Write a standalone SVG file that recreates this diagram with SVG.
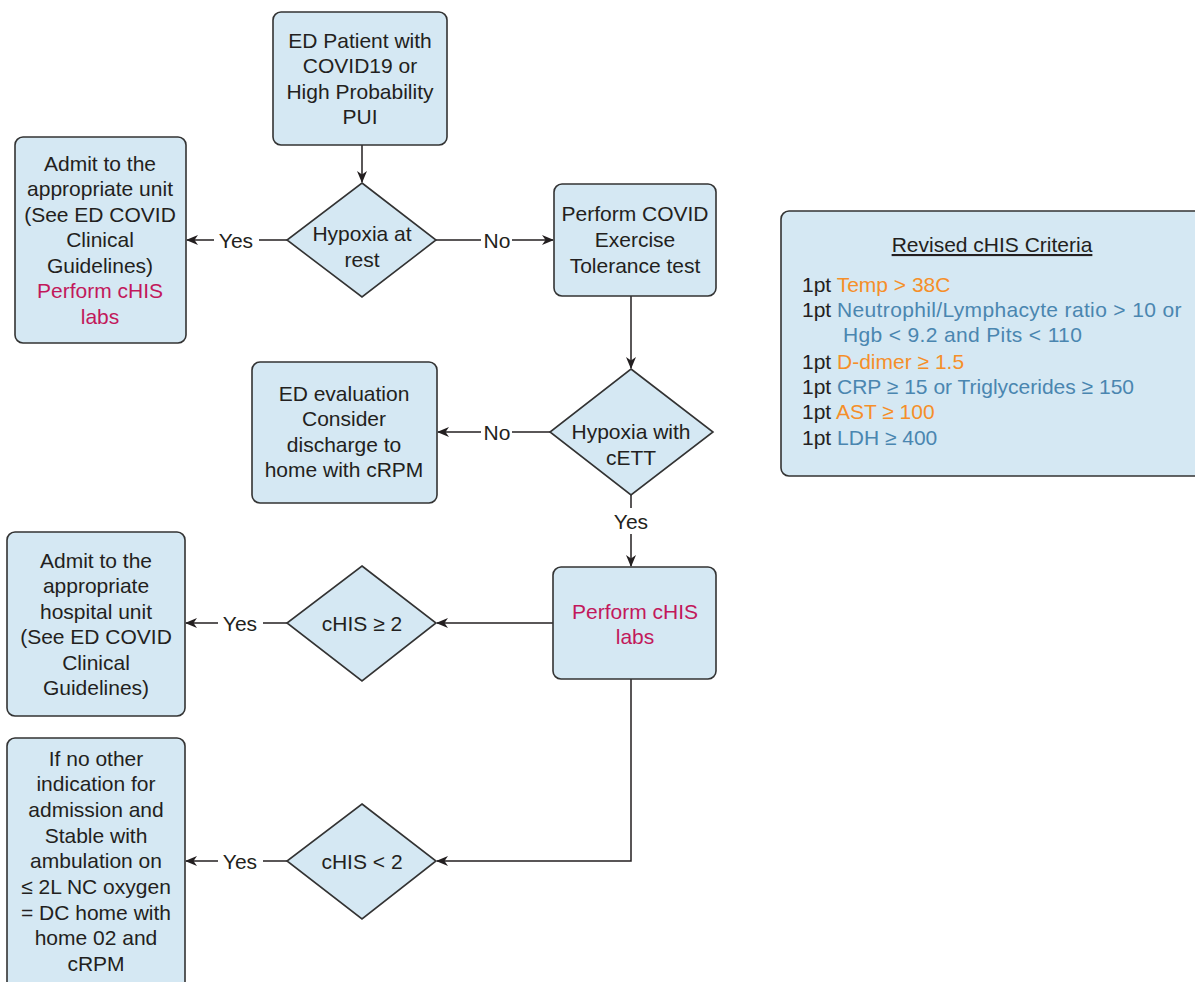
<svg xmlns="http://www.w3.org/2000/svg" width="1195" height="982" viewBox="0 0 1195 982">
<defs>
<style>
.box{fill:#d5e8f3;stroke:#333;stroke-width:1.6}
.t{font-family:"Liberation Sans",Arial,sans-serif;font-size:21px;fill:#231f20;text-anchor:middle}
.l{font-family:"Liberation Sans",Arial,sans-serif;font-size:21px;fill:#231f20}
.red{fill:#c2185b}
.or{fill:#f58f29}
.bl{fill:#4a86b0}
.ln{fill:none;stroke:#231f20;stroke-width:1.5}
</style>
<marker id="ah" markerWidth="12" markerHeight="10" refX="11" refY="5" orient="auto" markerUnits="userSpaceOnUse">
<path d="M0,0 L12,5 L0,10 L3.5,5 z" fill="#231f20"/>
</marker>
</defs>
<rect width="1195" height="982" fill="#fff"/>

<g id="connectors">
<line class="ln" x1="362" y1="145" x2="362" y2="182" marker-end="url(#ah)"/>
<line class="ln" x1="287" y1="240" x2="259" y2="240"/>
<line class="ln" x1="214" y1="240" x2="187" y2="240" marker-end="url(#ah)"/>
<text class="t" x="236" y="247.5">Yes</text>
<line class="ln" x1="436" y1="240" x2="481" y2="240"/>
<line class="ln" x1="512" y1="240" x2="553" y2="240" marker-end="url(#ah)"/>
<text class="t" x="497" y="247.5">No</text>
<line class="ln" x1="631" y1="296" x2="631" y2="368" marker-end="url(#ah)"/>
<line class="ln" x1="550" y1="432" x2="512" y2="432"/>
<line class="ln" x1="481" y1="432" x2="438" y2="432" marker-end="url(#ah)"/>
<text class="t" x="497" y="439.5">No</text>
<line class="ln" x1="631" y1="495" x2="631" y2="508"/>
<text class="t" x="631" y="528.5">Yes</text>
<line class="ln" x1="631" y1="534" x2="631" y2="566" marker-end="url(#ah)"/>
<line class="ln" x1="553" y1="623" x2="437" y2="623" marker-end="url(#ah)"/>
<line class="ln" x1="287" y1="623" x2="263" y2="623"/>
<line class="ln" x1="218" y1="623" x2="186" y2="623" marker-end="url(#ah)"/>
<text class="t" x="240" y="630.5">Yes</text>
<polyline class="ln" points="631,679 631,861 437,861" marker-end="url(#ah)"/>
<line class="ln" x1="287" y1="861" x2="263" y2="861"/>
<line class="ln" x1="218" y1="861" x2="186" y2="861" marker-end="url(#ah)"/>
<text class="t" x="240" y="868.5">Yes</text>
</g>

<g id="start">
<rect class="box" x="273" y="12" width="174" height="133" rx="8"/>
<text class="t" x="360" y="47.5">ED Patient with</text>
<text class="t" x="360" y="73">COVID19 or</text>
<text class="t" x="360" y="98.5">High Probability</text>
<text class="t" x="360" y="124">PUI</text>
</g>

<g id="hypoxia-rest">
<polygon class="box" points="362,183 436,240 362,297 287,240"/>
<text class="t" x="362" y="241">Hypoxia at</text>
<text class="t" x="362" y="266.5">rest</text>
</g>

<g id="admit-unit">
<rect class="box" x="15" y="137" width="171" height="206" rx="8"/>
<text class="t" x="100" y="170.5">Admit to the</text>
<text class="t" x="100" y="196">appropriate unit</text>
<text class="t" x="100" y="221.5">(See ED COVID</text>
<text class="t" x="100" y="247">Clinical</text>
<text class="t" x="100" y="272.5">Guidelines)</text>
<text class="t red" x="100" y="298">Perform cHIS</text>
<text class="t red" x="100" y="323.5">labs</text>
</g>

<g id="exercise-test">
<rect class="box" x="554" y="184" width="162" height="112" rx="8"/>
<text class="t" x="635" y="220.5">Perform COVID</text>
<text class="t" x="635" y="247">Exercise</text>
<text class="t" x="635" y="272.5">Tolerance test</text>
</g>

<g id="hypoxia-cett">
<polygon class="box" points="631,369 713,432 631,495 550,432"/>
<text class="t" x="631" y="439">Hypoxia with</text>
<text class="t" x="631" y="464.5">cETT</text>
</g>

<g id="ed-evaluation">
<rect class="box" x="252" y="362" width="185" height="141" rx="8"/>
<text class="t" x="344" y="400.5">ED evaluation</text>
<text class="t" x="344" y="426">Consider</text>
<text class="t" x="344" y="451.5">discharge to</text>
<text class="t" x="344" y="477">home with cRPM</text>
</g>

<g id="chis-labs">
<rect class="box" x="553" y="567" width="163" height="112" rx="8"/>
<text class="t red" x="635" y="619">Perform cHIS</text>
<text class="t red" x="635" y="643.5">labs</text>
</g>

<g id="chis-ge2">
<polygon class="box" points="362,566 436,623 362,681 287,623"/>
<text class="t" x="362" y="630.5">cHIS ≥ 2</text>
</g>

<g id="admit-hospital">
<rect class="box" x="7" y="532" width="178" height="184" rx="8"/>
<text class="t" x="96" y="567.5">Admit to the</text>
<text class="t" x="96" y="593">appropriate</text>
<text class="t" x="96" y="618.5">hospital unit</text>
<text class="t" x="96" y="644">(See ED COVID</text>
<text class="t" x="96" y="669.5">Clinical</text>
<text class="t" x="96" y="695">Guidelines)</text>
</g>

<g id="chis-lt2">
<polygon class="box" points="362,804 436,861 362,919 287,861"/>
<text class="t" x="362" y="868.5">cHIS &lt; 2</text>
</g>

<g id="discharge">
<rect class="box" x="7" y="738" width="178" height="252" rx="8"/>
<text class="t" x="96" y="765.5">If no other</text>
<text class="t" x="96" y="791">indication for</text>
<text class="t" x="96" y="817">admission and</text>
<text class="t" x="96" y="842.5">Stable with</text>
<text class="t" x="96" y="868">ambulation on</text>
<text class="t" x="96" y="894">≤ 2L NC oxygen</text>
<text class="t" x="96" y="919.5">= DC home with</text>
<text class="t" x="96" y="945">home 02 and</text>
<text class="t" x="96" y="970.5">cRPM</text>
</g>

<g id="criteria">
<rect class="box" x="781" y="211" width="430" height="265" rx="8"/>
<text class="t" x="992" y="252" text-decoration="underline">Revised cHIS Criteria</text>
<text class="l" x="802" y="292">1pt <tspan class="or">Temp &gt; 38C</tspan></text>
<text class="l" x="802" y="317">1pt <tspan class="bl" letter-spacing="0.35">Neutrophil/Lymphacyte ratio &gt; 10 or</tspan></text>
<text class="l bl" x="843" y="342" letter-spacing="0.35">Hgb &lt; 9.2 and Pits &lt; 110</text>
<text class="l" x="802" y="368.5">1pt <tspan class="or">D-dimer ≥ 1.5</tspan></text>
<text class="l" x="802" y="394">1pt <tspan class="bl">CRP ≥ 15 or Triglycerides ≥ 150</tspan></text>
<text class="l" x="802" y="419">1pt <tspan class="or">AST ≥ 100</tspan></text>
<text class="l" x="802" y="444.5">1pt <tspan class="bl">LDH ≥ 400</tspan></text>
</g>
</svg>
